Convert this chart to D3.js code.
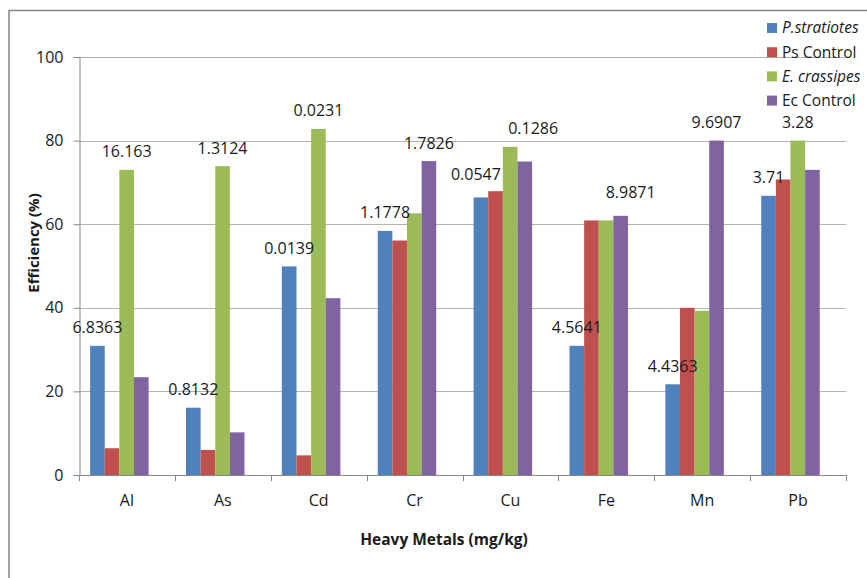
<!DOCTYPE html>
<html>
<head>
<meta charset="utf-8">
<script src="https://cdn.jsdelivr.net/npm/d3@7"></script>
<style>
  html, body { margin: 0; padding: 0; background: #fff; }
  svg { display: block; }
  text { font-family: "Open Sans", sans-serif; fill: #1a1a1a; }
</style>
</head>
<body>
<div id="chart"></div>
<script>
// ---------- data ----------
const categories = ["Al", "As", "Cd", "Cr", "Cu", "Fe", "Mn", "Pb"];
const seriesNames = ["P.stratiotes", "Ps Control", "E. crassipes", "Ec Control"];
const pStratiotes = [30.9, 16.1, 49.9, 58.4, 66.4, 30.9, 21.7, 66.8];
const psControl   = [6.4, 6.0, 4.7, 56.1, 67.9, 60.9, 40.0, 70.7];
const eCrassipes  = [73.0, 73.9, 82.8, 62.6, 78.5, 60.9, 39.3, 80.0];
const ecControl   = [23.4, 10.2, 42.3, 75.1, 75.0, 62.0, 80.0, 73.0];
const yTicks = [0, 20, 40, 60, 80, 100];
// value labels shown above bars
const labelsP = ["6.8363", "0.8132", "0.0139", "1.1778", "0.0547", "4.5641", "4.4363", "3.71"];
const labelsE = ["16.163", "1.3124", "0.0231", "1.7826", "0.1286", "8.9871", "9.6907", "3.28"];
const labelsESeries = [2, 2, 2, 3, 2, 3, 3, 2];

// ---------- layout / style ----------
const W = 867, H = 578;
const plot = { left: 79, right: 846, top: 57, bottom: 475 };
const colors = ["#4F81BD", "#C0504D", "#9BBB59", "#8064A2"];
const italicLegend = [true, false, true, false];
const labelNudge = { "Cu-0": [-5, -5], "Cu-1": [23, 0], "Fe-1": [10, -5] };

const values = [pStratiotes, psControl, eCrassipes, ecControl];

const svg = d3.select("#chart").append("svg").attr("width", W).attr("height", H);

// chart frame
svg.append("rect").attr("x", 9).attr("y", 10.5).attr("width", 900).attr("height", 600)
  .attr("fill", "none").attr("stroke", "#8a8a8a").attr("stroke-width", 1.6);

const x = d3.scaleBand().domain(categories).range([plot.left, plot.right]).padding(0);
const bw = x.bandwidth();
const xs = d3.scaleBand().domain(d3.range(4)).range([bw * 0.116, bw * 0.726]).padding(0);
const y = d3.scaleLinear().domain([0, 100]).range([plot.bottom, plot.top]);

// gridlines
svg.append("g").selectAll("line").data(yTicks.filter(d => d > 0)).join("line")
  .attr("x1", plot.left).attr("x2", plot.right)
  .attr("y1", d => Math.round(y(d)) + 0.5).attr("y2", d => Math.round(y(d)) + 0.5)
  .attr("stroke", "#b3b3b3").attr("stroke-width", 1);

// bars
const groups = svg.append("g").selectAll("g").data(categories).join("g")
  .attr("transform", d => `translate(${x(d)},0)`);
groups.selectAll("rect").data((c, i) => values.map((s, k) => ({ k, v: s[i] }))).join("rect")
  .attr("x", d => xs(d.k)).attr("width", xs.bandwidth())
  .attr("y", d => y(d.v)).attr("height", d => y(0) - y(d.v))
  .attr("fill", d => colors[d.k]);

// y axis
const yAxis = d3.axisLeft(y).tickValues(yTicks).tickSize(6).tickPadding(10).tickFormat(d3.format("d"));
const gy = svg.append("g").attr("transform", `translate(${plot.left + 0.5},0)`).call(yAxis);
gy.select(".domain").attr("stroke", "#868686");
gy.selectAll(".tick line").attr("stroke", "#868686");
gy.selectAll(".tick text").style("font-size", "16px").style("font-family", "Open Sans").attr("fill", "#1a1a1a");

// x axis (ticks at category boundaries)
svg.append("line").attr("x1", plot.left).attr("x2", plot.right)
  .attr("y1", plot.bottom + 0.5).attr("y2", plot.bottom + 0.5).attr("stroke", "#868686");
const bounds = categories.map(c => x(c)).concat([x(categories[categories.length - 1]) + bw]);
svg.append("g").selectAll("line").data(bounds).join("line")
  .attr("x1", d => Math.round(d) + 0.5).attr("x2", d => Math.round(d) + 0.5)
  .attr("y1", plot.bottom).attr("y2", plot.bottom + 6).attr("stroke", "#868686");
svg.append("g").selectAll("text").data(categories).join("text")
  .attr("x", d => x(d) + bw / 2).attr("y", plot.bottom + 25)
  .attr("dy", "0.35em").attr("text-anchor", "middle").style("font-size", "16px").text(d => d);

// value labels
const labelData = [];
categories.forEach((c, i) => {
  labelData.push({ c, k: 0, v: values[0][i], t: labelsP[i], n: labelNudge[c + "-0"] || [0, 0] });
  const k = labelsESeries[i];
  labelData.push({ c, k, v: values[k][i], t: labelsE[i], n: labelNudge[c + "-1"] || [0, 0] });
});
svg.append("g").selectAll("text").data(labelData).join("text")
  .attr("x", d => x(d.c) + xs(d.k) + xs.bandwidth() / 2 + d.n[0])
  .attr("y", d => y(d.v) - 18 + d.n[1])
  .attr("dy", "0.35em").attr("text-anchor", "middle").style("font-size", "16px").text(d => d.t);

// axis titles
svg.append("text").attr("x", 444).attr("y", 540).attr("dy", "0.35em").attr("text-anchor", "middle")
  .style("font-size", "15.5px").style("font-weight", "bold").text("Heavy Metals (mg/kg)");
svg.append("text").attr("transform", "translate(34,243) rotate(-90)").attr("dy", "0.35em")
  .attr("text-anchor", "middle").style("font-size", "15px").style("font-weight", "bold").text("Efficiency (%)");

// legend
const lg = svg.append("g").selectAll("g").data(seriesNames).join("g")
  .attr("transform", (d, i) => `translate(767,${28 + i * 24.2})`);
lg.append("rect").attr("x", 0).attr("y", -5).attr("width", 10).attr("height", 10).attr("fill", (d, i) => colors[i]);
lg.append("text").attr("x", 15).attr("y", 0).attr("dy", "0.35em").style("font-size", "15.5px")
  .style("font-style", (d, i) => italicLegend[i] ? "italic" : "normal").text(d => d);
</script>
</body>
</html>
